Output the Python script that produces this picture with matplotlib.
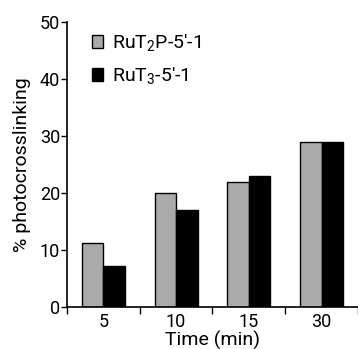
import matplotlib
matplotlib.use("Agg")
import matplotlib.pyplot as plt
import numpy as np

# data
times = ["5", "10", "15", "30"]
rut2p = [11.2, 20.0, 21.9, 29.0]
rut3 = [7.2, 17.0, 23.0, 29.0]
series_labels = ["RuT$_2$P-5'-1", "RuT$_3$-5'-1"]
yticks = [0, 10, 20, 30, 40, 50]

plt.rcParams["font.family"] = ["Roboto", "DejaVu Sans"]
plt.rcParams["mathtext.default"] = "regular"

fig = plt.figure(figsize=(3.58, 3.49), dpi=100)
ax = fig.add_axes([0.187, 0.120, 0.813, 0.817])

x = np.arange(len(times))
w = 0.295
ax.bar(x - w / 2, rut2p, w, color="#aaaaaa", edgecolor="black", linewidth=1.0,
       label=series_labels[0])
ax.bar(x + w / 2, rut3, w, color="black", edgecolor="black", linewidth=1.0,
       label=series_labels[1])

ax.set_xlim(-0.5, 3.37)
ax.set_ylim(0, 50)
ax.set_yticks(yticks)
ax.set_xticks(x)
ax.set_xticklabels(times)
ax.set_xticks(np.arange(-0.5, 4, 1.0), minor=True)
ax.tick_params(axis="x", which="major", length=0, labelsize=13, pad=4)
ax.tick_params(axis="x", which="minor", length=5, width=1, direction="out")
ax.tick_params(axis="y", length=4, width=1, labelsize=13, pad=1)

for s in ["top", "right"]:
    ax.spines[s].set_visible(False)
for s in ["left", "bottom"]:
    ax.spines[s].set_linewidth(1.2)

ax.set_xlabel("Time (min)", fontsize=14, labelpad=0)
ax.set_ylabel("% photocrosslinking", fontsize=14, labelpad=6)

ax.legend(loc="upper left", bbox_to_anchor=(0.045, 1.005), frameon=False,
          fontsize=14, handlelength=0.6, handleheight=0.6, handletextpad=0.45,
          labelspacing=0.62, borderaxespad=0.2)

fig.savefig("out.png", dpi=100, facecolor="white")
